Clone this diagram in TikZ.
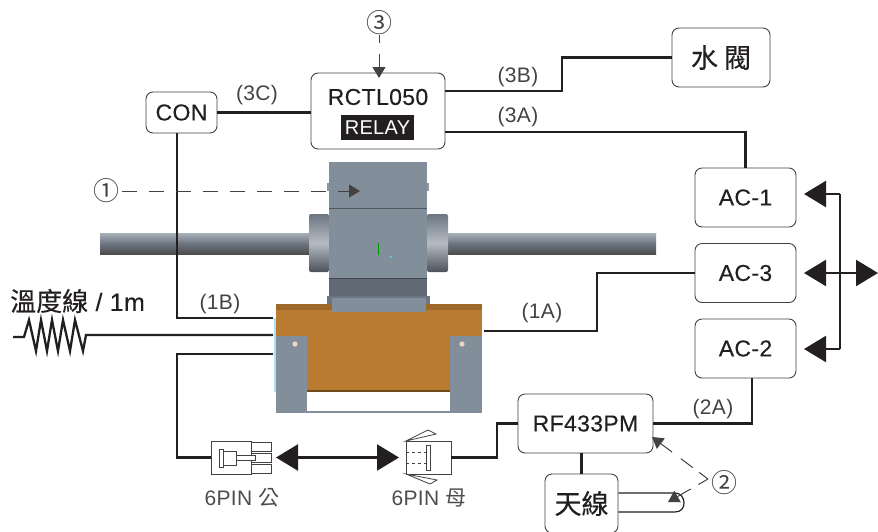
\documentclass[tikz,border=0pt]{standalone}
\usepackage{fontspec}
\setmainfont[LetterSpace=1.5]{Liberation Sans}
\newfontfamily\boldish[LetterSpace=1.5,FakeBold=0.25]{Liberation Sans}
\newfontfamily\cjk[FakeBold=0.25]{Noto Sans CJK TC}
\newfontfamily\cjkthin{Noto Sans CJK TC}
\usetikzlibrary{arrows.meta,calc}

\definecolor{inkc}{HTML}{231F20}
\definecolor{steelc}{HTML}{838E9B}
\definecolor{steeld}{HTML}{6C7581}
\definecolor{orangec}{HTML}{B87B30}

\begin{document}
\begin{tikzpicture}[x=1pt,y=-1pt,
    every node/.style={text=inkc,inner sep=0pt},
    box/.style={draw=inkc!85,line width=0.9pt,rounded corners=7pt,fill=white,align=center},
    boxfont/.style={font=\boldish\fontsize{23}{25}\selectfont},
    wirelabel/.style={font=\fontsize{21}{23}\selectfont,text=inkc!85},
    pinlabel/.style={font=\fontsize{21}{23}\selectfont,text=inkc!80},
    marker/.style={font=\cjkthin\fontsize{26}{28}\selectfont,text=inkc!85},
    wire/.style={draw=inkc,line width=2.3pt},
    part/.style={draw=inkc!85,line width=0.8pt,fill=white},
    pointer/.style={draw=inkc!85,line width=1pt,dash pattern=on 15pt off 12pt,-{Triangle[length=11pt,width=13pt]}},
    bigtip/.style={{Triangle[length=22pt,width=26pt]}-{Triangle[length=22pt,width=26pt]}},
    lefttip/.style={-{Triangle[length=22pt,width=26pt]}}]
  \useasboundingbox (0,0) rectangle (878,531);

  % photo of the valve
  \shade[top color=steelc!70!white,bottom color=black!70,middle color=steeld] (100,233) rectangle (309,254);
  \shade[top color=steelc!70!white,bottom color=black!70,middle color=steeld] (448,233) rectangle (656,254);
  \shade[top color=steeld,bottom color=steeld!70!black,middle color=steelc!60!white,rounded corners=2pt] (309,214) rectangle (329,272);
  \shade[top color=steeld,bottom color=steeld!70!black,middle color=steelc!60!white,rounded corners=2pt] (427,214) rectangle (448,272);
  \fill[cyan!35] (274,318) rectangle (277,392);
  \fill[orangec] (276,304) rectangle (482,392);
  \fill[orangec!85!black] (276,304) rectangle (482,310);
  \fill[orangec!60!black] (307,390) rectangle (450,392);
  \fill[steelc] (329,162) rectangle (427,278);
  \draw[steeld!75!black,line width=1pt] (329,208) -- (427,208);
  \fill[steeld!90!black] (329,278) rectangle (427,298);
  \draw[steeld!60!black,line width=1pt] (329,278) -- (427,278);
  \fill[steeld!75!white] (327,183) rectangle (329,191);
  \fill[steeld!75!white] (427,183) rectangle (429,191);
  \fill[steeld] (327,296) rectangle (430,304);
  \fill[steelc] (332,298) rectangle (426,312);
  \fill[steelc] (276,336) rectangle (307,413);
  \fill[steelc] (450,336) rectangle (482,413);
  \fill[steelc] (307,411) rectangle (450,413);
  \foreach \x in {295,462} {
    \fill[orangec!30!white] (\x,344) circle (2.6pt);
  }
  \draw[green!60!black,line width=0.7pt] (378,243) -- (378,255);
  \fill[cyan!60] (391,257) circle (1.2pt);

  % boxes
  \node[box,boxfont,minimum width=71pt,minimum height=41pt] (con) at (181.5,112.5) {CON};
  \node[box,minimum width=134pt,minimum height=76pt] (rctl) at (378,111) {};
  \node[boxfont] (rctlname) at (378,97) {RCTL050};
  \node[fill=inkc,text=white,font=\fontsize{20}{22}\selectfont,minimum width=73pt,minimum height=25pt] (relay) at (377.5,127.5) {RELAY};
  \node[box,font=\cjk\fontsize{27}{29}\selectfont,minimum width=98pt,minimum height=59pt] (valve) at (721,57.5) {水 閥};
  \foreach \n/\y/\t in {acone/197.5/AC-1,acthree/273/AC-3,actwo/348.5/AC-2} {
    \node[box,boxfont,minimum width=101pt,minimum height=59pt] (\n) at (745.5,\y) {\t};
  }
  \node[box,boxfont,minimum width=135pt,minimum height=59pt] (rf) at (585.5,423.5) {RF433PM};
  \node[box,font=\cjk\fontsize{27}{29}\selectfont,minimum width=73pt,minimum height=59pt] (aerial) at (581.5,503.5) {天線};

  % connector bodies
  \node[part,minimum width=40pt,minimum height=33pt] (male) at (231,457.5) {};
  \node[part,minimum width=45pt,minimum height=33pt] (female) at (428.5,457.5) {};
  \foreach \y in {446.5,457.5,468.5} {
    \draw[part] (251,\y-4.5) rectangle (271,\y+4.5);
  }
  \draw[part] (219,449) rectangle (223,467);
  \draw[part] (223,451) rectangle (236,465);
  \draw[part] (236,455) rectangle (255,460);
  \draw[part] (406,441) -- (428,430) -- (436,434) -- cycle;
  \draw[part] (406,474) -- (430,484) -- (437,480) -- cycle;
  \draw[inkc!85,line width=0.8pt,dashed] (406,452) -- (426,452);
  \draw[inkc!85,line width=0.8pt,dashed] (406,463) -- (426,463);
  \draw[part] (426,445) rectangle (430,470);

  % wires
  \coordinate (rctlb) at (445,91);
  \coordinate (rctla) at (445,132);
  \coordinate (conend) at (273,318);
  \coordinate (sensend) at (273,335);
  \coordinate (pinend) at (273,354);
  \coordinate (acfrom) at (484,331);
  \draw[wire] (con) -- (rctl.west |- con);
  \draw[wire] (rctlb) -- (562,91) -- (562,57.5) -- (valve.west);
  \draw[wire] (rctla) -- (acone.north |- rctla) -- (acone.north);
  \draw[wire] (con.south -| 177,0) -- (conend -| 177,0) -- (conend);
  \draw[wire] (pinend) -- (177,354) -- (177,457.5) -- (male.west);
  \draw[wire] (acfrom) -- (597,331) -- (597,273) -- (acthree.west);
  \draw[wire] (rf.east) -- (752,423.5) -- (752,378);
  \draw[wire] (female.east) -- (497,457.5) -- (497,423.5) -- (rf.west);
  \draw[wire] (rf.south -| aerial) -- (aerial.north);

  % sensor coil
  \draw[wire,line join=miter] (13,337) -- (24,337) -- (29,320) -- (36,351) -- (41,320) -- (47,351) -- (52,320) -- (58,351) -- (63,320) -- (70,351) -- (75,320) -- (83,351) -- (86,335) -- (sensend);

  % aerial loop
  \draw[inkc,line width=1.2pt] (aerial.east |- 0,493) -- (675,493) .. controls (681,493) and (684,498) .. (684,503) .. controls (684,508) and (681,512) .. (675,512) -- (aerial.east |- 0,512);

  % double arrows
  \coordinate (acjoin) at (840,273);
  \coordinate (acout) at (878,273);
  \coordinate (tipa) at (804,194);
  \coordinate (tipb) at (804,273);
  \coordinate (tipc) at (804,349);
  \draw[wire,bigtip] (tipb) -- (acout);
  \draw[wire,lefttip] (840,194) -- (tipa);
  \draw[wire,lefttip] (840,349) -- (tipc);
  \draw[wire] (840,194) -- (840,349);
  \coordinate (plugl) at (276,457.5);
  \coordinate (plugr) at (399,457.5);
  \draw[wire,bigtip] (plugl) -- (plugr);

  % markers
  \node[marker] (mone) at (106,191) {①};
  \node[marker] (mtwo) at (724,483) {②};
  \node[marker] (mthree) at (379,23) {③};
  \coordinate (tipone) at (360,191);
  \coordinate (tipthree) at (379,78);
  \coordinate (tiprf) at (652,437);
  \coordinate (tipaerial) at (668,502);
  \coordinate (split) at (708,479);
  \draw[pointer] (122,191) -- (tipone);
  \draw[pointer,dash pattern=on 8pt off 11pt on 30pt] (379,35) -- (tipthree);
  \draw[pointer,dash pattern=on 11pt off 8pt on 15pt off 11pt on 30pt] (split) -- (tiprf);
  \draw[pointer,dash pattern=on 11pt off 9pt on 30pt] (split) -- (tipaerial);

  % labels
  \foreach \n/\x/\y in {3C/257/95,3B/518/77,3A/518/117,1B/220/304,1A/542/313,2A/713/409} {
    \node[wirelabel] (lab\n) at (\x,\y) {(\n)};
  }
  \node[anchor=west,font=\boldish\fontsize{25}{27}\selectfont] (sensor) at (10,301) {{\cjk\fontsize{26}{28}\selectfont 溫度線} / 1m};
  \node[pinlabel] (pinm) at (242,498) {6PIN {\cjkthin 公}};
  \node[pinlabel] (pinf) at (429,498) {6PIN {\cjkthin 母}};
\end{tikzpicture}
\end{document}
